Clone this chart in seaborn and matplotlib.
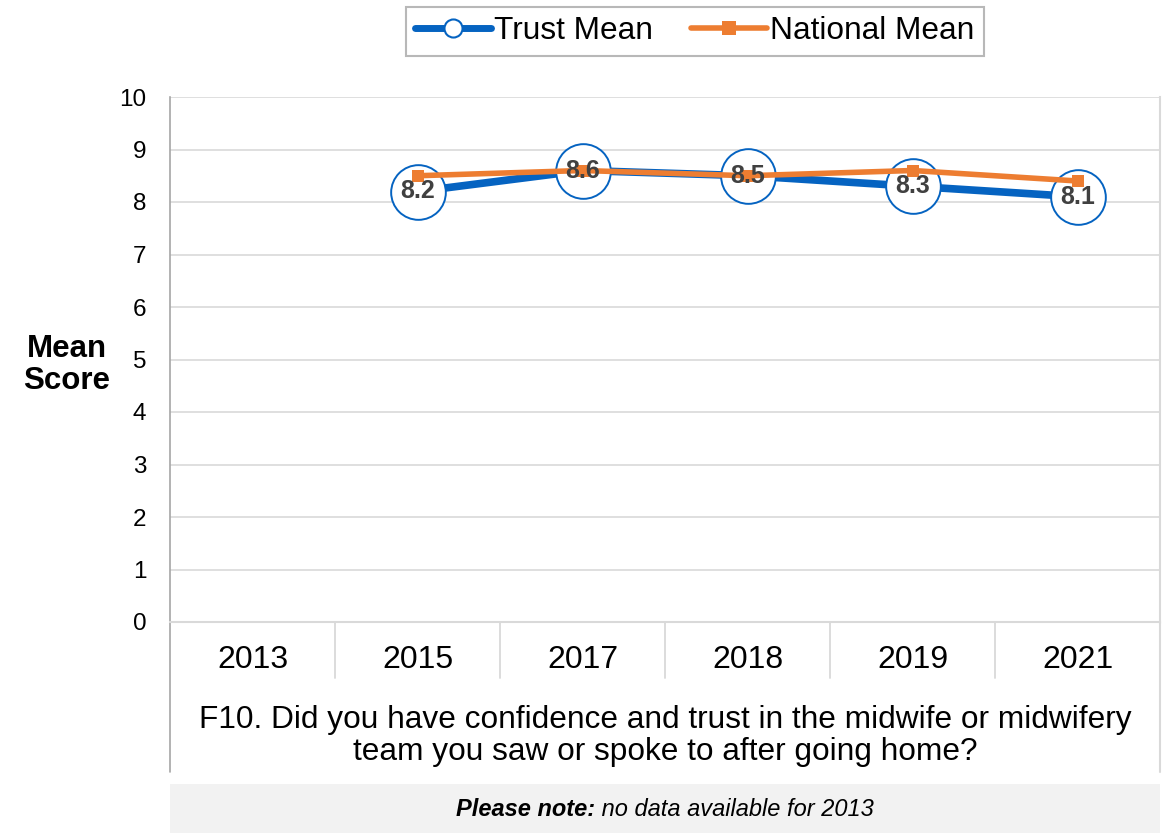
import numpy as np
import pandas as pd
import matplotlib
matplotlib.use("Agg")
import matplotlib.pyplot as plt
import seaborn as sns
from matplotlib.lines import Line2D
from matplotlib.patches import Rectangle
import matplotlib.transforms as mtransforms

years = ["2013", "2015", "2017", "2018", "2019", "2021"]
trust_mean = [np.nan, 8.2, 8.6, 8.5, 8.3, 8.1]
national_mean = [np.nan, 8.5, 8.6, 8.5, 8.6, 8.4]
question = "F10. Did you have confidence and trust in the midwife or midwifery\nteam you saw or spoke to after going home?"
note_bold = "Please note:"
note_rest = " no data available for 2013"

BLUE = "#0563C1"
ORANGE = "#ED7D31"
GRID = "#D9D9D9"
AXIS = "#A6A6A6"

sns.set_theme(style="white")
plt.rcParams["font.family"] = ["Liberation Sans", "DejaVu Sans"]
plt.rcParams["text.color"] = "black"

W, H = 1168, 833
fig = plt.figure(figsize=(W / 100, H / 100), dpi=100)
ax = fig.add_axes([170 / W, 1 - 622 / H, (1160 - 170) / W, (622 - 97) / H])

df = pd.DataFrame({"pos": np.arange(len(years)), "year": years,
                   "trust": trust_mean, "national": national_mean})
valid = df.dropna()

# Trust line, its circle markers, then the national line on top
sns.lineplot(data=valid, x="pos", y="trust", ax=ax, color=BLUE, linewidth=5.5,
             zorder=2, legend=False)
sns.scatterplot(data=valid, x="pos", y="trust", ax=ax, s=1550, facecolor="white",
                edgecolor=BLUE, linewidth=1.4, zorder=3, legend=False)
sns.lineplot(data=valid, x="pos", y="national", ax=ax, color=ORANGE, linewidth=4,
             marker="s", markersize=9, markeredgewidth=0, zorder=4, legend=False)

for p, v in zip(valid["pos"], valid["trust"]):
    ax.text(p, v, f"{v:.1f}", ha="center", va="center", fontsize=18,
            fontweight="bold", color="#404040", zorder=6)

ax.set_xlim(-0.5, len(years) - 0.5)
ax.set_ylim(0, 10)
ax.set_yticks(range(0, 11))
ax.tick_params(axis="y", labelsize=17.5, length=0, pad=17, colors="black")
ax.set_xticks([])
ax.set_xlabel("")
ax.set_ylabel("")
ax.grid(axis="y", color=GRID, linewidth=1.2)
ax.set_axisbelow(True)
ax.spines["top"].set_visible(False)
ax.spines["left"].set_color(AXIS)
ax.spines["left"].set_linewidth(1.2)
ax.spines["bottom"].set_color(GRID)
ax.spines["bottom"].set_linewidth(1.5)
ax.spines["right"].set_color(GRID)
ax.spines["right"].set_linewidth(1.5)

# Category separators and labels below the axis
trans = mtransforms.blended_transform_factory(ax.transData, fig.transFigure)
y0 = 1 - 622 / H
for b in np.arange(0.5, len(years) - 1, 1.0):
    ax.add_line(Line2D([b, b], [y0, 1 - 678 / H], transform=trans, color=GRID,
                       linewidth=1.3, clip_on=False))
ax.add_line(Line2D([-0.5, -0.5], [y0, 1 - 772 / H], transform=trans, color=AXIS,
                   linewidth=1.2, clip_on=False))
ax.add_line(Line2D([len(years) - 0.5] * 2, [y0, 1 - 772 / H], transform=trans,
                   color=GRID, linewidth=1.5, clip_on=False))
for i, yr in enumerate(years):
    ax.text(i, 1 - 660 / H, yr, transform=trans, ha="center", va="center",
            fontsize=23, color="black")

fig.text((170 + 1160) / 2 / W, 1 - 736 / H, question, ha="center", va="center",
         fontsize=22.8, color="black", linespacing=1.12)

# Note band
fig.patches.append(Rectangle((170 / W, 0), (1160 - 170) / W, (833 - 784) / H,
                             transform=fig.transFigure, facecolor="#F2F2F2",
                             edgecolor="none", zorder=0))
t1 = fig.text(0, 1 - 810 / H, note_bold, fontsize=17, fontweight="bold",
              fontstyle="italic", va="center", ha="left")
t2 = fig.text(0, 1 - 810 / H, note_rest, fontsize=17, fontstyle="italic",
              va="center", ha="left")
fig.canvas.draw()
r = fig.canvas.get_renderer()
w1 = t1.get_window_extent(r).width
w2 = t2.get_window_extent(r).width
x_start = (170 + 1160) / 2 - (w1 + w2) / 2
t1.set_x(x_start / W)
t2.set_x((x_start + w1) / W)

fig.text(67 / W, 1 - 365 / H, "Mean\nScore", ha="center", va="center",
         fontsize=22.5, fontweight="bold", linespacing=1.05)

handles = [
    Line2D([], [], color=BLUE, linewidth=5, marker="o", markersize=13,
           markerfacecolor="white", markeredgecolor=BLUE, markeredgewidth=1.5),
    Line2D([], [], color=ORANGE, linewidth=4, marker="s", markersize=10,
           markeredgewidth=0),
]
leg = fig.legend(handles, ["Trust Mean", "National Mean"], loc="center",
                 bbox_to_anchor=(695 / W, 1 - 31 / H), ncol=2, fontsize=22.8,
                 frameon=True, fancybox=False, edgecolor="#A6A6A6",
                 handlelength=2.4, handletextpad=0.1, columnspacing=1.2,
                 borderpad=0.3)
leg.get_frame().set_linewidth(1.5)

fig.savefig("out.png", dpi=100)
